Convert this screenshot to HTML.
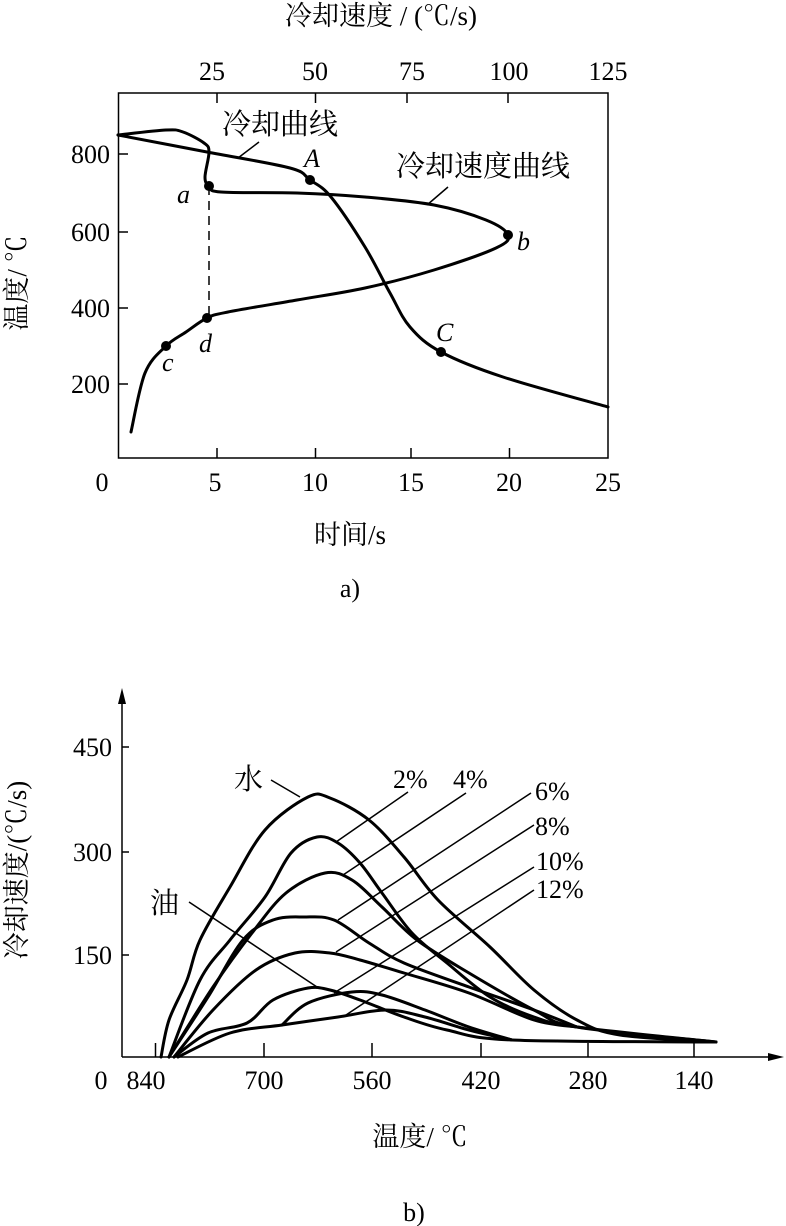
<!DOCTYPE html>
<html><head><meta charset="utf-8"><style>
html,body{margin:0;padding:0;background:#fff;}
svg{display:block;}
text{font-family:"Liberation Serif","Noto Serif CJK SC",serif;font-size:26px;fill:#000;}
.i{font-style:italic;}
.c{font-size:29px;}
</style></head><body>
<svg id="s" width="786" height="1226" viewBox="0 0 786 1226" xmlns="http://www.w3.org/2000/svg">
<g fill="none" stroke="#000" stroke-width="1.5">
<rect x="118.5" y="93" width="489.5" height="365"/>
<path d="M118 154h10M118 232h10M118 308h10M118 384h10M217 458v-10M315.5 458v-10M411 458v-10M509.5 458v-10M217 93v10M315.5 93v10M407 93v10M508 93v10"/>
<path d="M209 186V318" stroke-dasharray="9,6"/>
<path d="M259 142L238 158M448 187L427 205"/>
<path d="M122 1057H775M122 1057V692M122 747h7M122 852h7M122 955h7M155.5 1057v-14M264 1057v-14M372 1057v-14M481 1057v-14M588 1057v-14M694 1057v-14"/>
<path d="M271 780L300 797M189 902L317 987M408 792L336 842M466 793L343 875M531 793L338 920M534 825L336 952M534 867L334 993M534 890L343 1017"/>
</g>
<path d="M122 688l-4 16h8zM784 1057l-16-4v8z" fill="#000"/>
<g id="curves" fill="none" stroke="#000" stroke-width="3" stroke-linejoin="round" stroke-linecap="round"></g>
<g fill="#000"><circle cx="310" cy="180" r="5"/><circle cx="209" cy="186" r="5"/><circle cx="508" cy="235" r="5"/><circle cx="441" cy="352" r="5"/><circle cx="207" cy="318" r="5"/><circle cx="166" cy="346" r="5"/></g>
<text x="381" y="25" text-anchor="middle" class="c" style="font-size:27px">冷却速度 / (℃/s)</text>
<g text-anchor="middle"><text x="212" y="80">25</text><text x="315" y="80">50</text><text x="412" y="80">75</text><text x="509" y="80">100</text><text x="608" y="80">125</text>
<text x="102" y="491">0</text><text x="215" y="491">5</text><text x="315" y="491">10</text><text x="411" y="491">15</text><text x="509" y="491">20</text><text x="608" y="491">25</text>
<text x="350" y="544" class="c" style="font-size:27px">时间/s</text><text x="350" y="597">a)</text></g>
<g text-anchor="end"><text x="110" y="163">800</text><text x="110" y="241">600</text><text x="110" y="317">400</text><text x="110" y="393">200</text></g>
<text transform="translate(26,283) rotate(-90)" text-anchor="middle" style="font-size:27px">温度/ ℃</text>
<text x="222" y="134" class="c">冷却曲线</text><text x="396" y="176" class="c">冷却速度曲线</text>
<text class="i" x="177" y="203">a</text><text class="i" x="304" y="167">A</text><text class="i" x="517" y="250">b</text><text class="i" x="436" y="341">C</text><text class="i" x="199" y="352">d</text><text class="i" x="162" y="371">c</text>
<g text-anchor="end"><text x="112" y="756">450</text><text x="112" y="861">300</text><text x="112" y="964">150</text></g>
<text transform="translate(26,870) rotate(-90)" text-anchor="middle" style="font-size:27px">冷却速度/(℃/s)</text>
<g text-anchor="middle"><text x="101" y="1089">0</text><text x="146" y="1089">840</text><text x="264" y="1089">700</text><text x="372" y="1089">560</text><text x="481" y="1089">420</text><text x="588" y="1089">280</text><text x="694" y="1089">140</text>
<text x="420" y="1146" style="font-size:27px">温度/ ℃</text><text x="414" y="1221">b)</text></g>
<text x="234" y="789" class="c">水</text><text x="150" y="913" class="c">油</text>
<text x="393" y="788">2%</text><text x="453" y="788">4%</text><text x="535" y="800">6%</text><text x="535" y="835">8%</text><text x="536" y="870">10%</text><text x="536" y="898">12%</text>
</svg>
<script>
var C=[
[[118,135],[207,152],[290,168],[310,180],[331,197],[365,247],[390,293],[410,327],[441,352],[503,377],[608,407]],
[[118,135],[166,130],[183,132],[204,143],[209,152],[205,177],[209,186],[221,192],[297,193],[365,197],[434,205],[486,220],[508,235],[496,248],[434,270],[365,288],[297,300],[228,312],[207,318],[186,332],[166,346],[145,373],[131,432]],
[[161,1057],[169,1020],[187,980],[200,940],[230,887],[265,830],[308,797],[330,798],[369,820],[404,857],[438,900],[490,947],[534,990],[577,1020],[620,1035],[716,1042]],
[[169,1057],[200,980],[230,940],[265,897],[291,853],[317,837],[338,843],[360,863],[382,893],[412,933],[447,963],[490,997],[534,1017],[577,1027],[716,1042]],
[[169,1057],[213,987],[252,933],[286,893],[325,873],[352,880],[382,907],[417,940],[469,973],[534,1010],[577,1027],[716,1042]],
[[169,1057],[208,997],[243,940],[273,920],[304,917],[334,920],[369,943],[404,963],[469,987],[534,1010],[577,1027]],
[[174,1057],[213,1010],[256,970],[295,953],[330,953],[360,960],[404,973],[469,993],[534,1020],[577,1027]],
[[174,1057],[208,1033],[247,1023],[273,1000],[308,988],[330,990],[360,1000],[404,1017],[447,1030],[512,1040],[716,1042]],
[[282,1025],[308,1003],[352,992],[382,995],[425,1010],[469,1027],[512,1040]],
[[178,1057],[230,1033],[282,1025],[338,1017],[386,1010],[425,1017],[469,1030],[512,1040]]];
var g=document.getElementById('curves'),h='';
C.forEach(function(p){var d='M'+p[0];for(var i=0;i<p.length-1;i++){var a=p[i-1]||p[i],b=p[i],c=p[i+1],e=p[i+2]||c;
d+='C'+(b[0]+(c[0]-a[0])/6)+','+(b[1]+(c[1]-a[1])/6)+' '+(c[0]-(e[0]-b[0])/6)+','+(c[1]-(e[1]-b[1])/6)+' '+c;}
h+='<path d="'+d+'"/>';});
g.innerHTML=h;
</script>
</body></html>
